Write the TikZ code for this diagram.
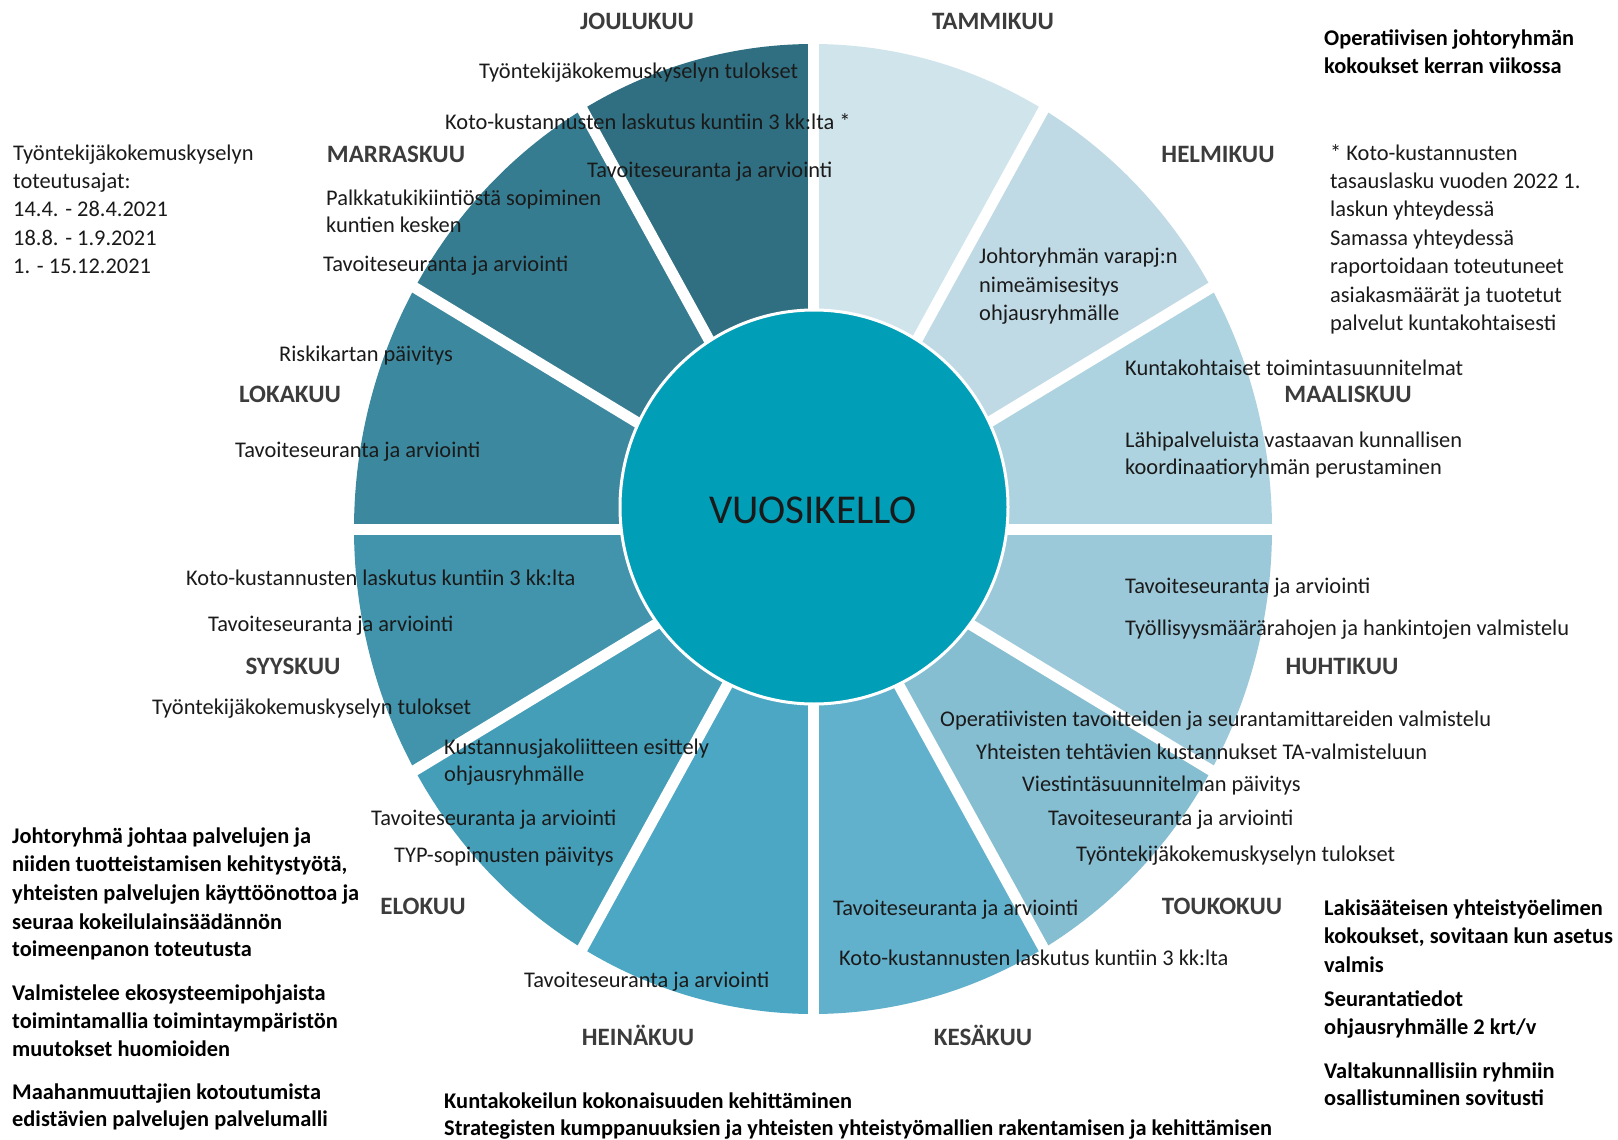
\documentclass[tikz,border=0pt]{standalone}
\usepackage{fontspec}
\setmainfont{Carlito}
\definecolor{cJan}{HTML}{D0E4EB}
\definecolor{cFeb}{HTML}{BFDAE5}
\definecolor{cMar}{HTML}{ADD3E0}
\definecolor{cApr}{HTML}{9CC9D9}
\definecolor{cMay}{HTML}{85BDD1}
\definecolor{cJun}{HTML}{62B1CC}
\definecolor{cJul}{HTML}{4BA7C3}
\definecolor{cAug}{HTML}{459EB8}
\definecolor{cSep}{HTML}{4194AC}
\definecolor{cOct}{HTML}{3C899F}
\definecolor{cNov}{HTML}{367C90}
\definecolor{cDec}{HTML}{2F6F81}
\definecolor{cCenter}{HTML}{009FB7}
\definecolor{txtc}{HTML}{1A1A1A}
\definecolor{monthc}{HTML}{3C3C3C}
\begin{document}
\begin{tikzpicture}[x=1pt,y=-1pt,
  txt/.style={anchor=base west, inner sep=0pt, text=txtc, font=\fontsize{22.4}{27}\selectfont},
  btxt/.style={anchor=base west, inner sep=0pt, text=black, font=\fontsize{22.4}{27}\selectfont\bfseries},
  month/.style={anchor=base, inner sep=0pt, text=monthc, font=\fontsize{25}{30}\selectfont\bfseries},
  gap/.style={white, line width=11pt},
]
\useasboundingbox (0,0) rectangle (1618,1140);
\fill[white] (0,0) rectangle (1618,1140);

% pie wedges
\begin{scope}[shift={(813,529)}]
\foreach \a/\c in {-90/cJan,-60/cFeb,-30/cMar,0/cApr,30/cMay,60/cJun,90/cJul,120/cAug,150/cSep,180/cOct,210/cNov,240/cDec}{
  \pgfmathsetmacro\b{\a+30}
  \fill[\c] (0,0) -- plot[domain=\a:\b, samples=31] ({459*cos(\x)},{485*sin(\x)}) -- cycle;
}
\foreach \a in {0,30,...,330}{
  \draw[gap] (0,0) -- ({500*cos(\a)},{525*sin(\a)});
}
\end{scope}

% centre
\draw[white, line width=3pt, fill=cCenter] (814,507) ellipse[x radius=194, y radius=197];
\node[anchor=base, inner sep=0pt, text=txtc, font=\fontsize{41}{48}\selectfont] (center) at (813,523) {VUOSIKELLO};

% month labels
\node[month] (mDec) at (637,30) {JOULUKUU};
\node[month] (mJan) at (993,30) {TAMMIKUU};
\node[month] (mFeb) at (1218,162) {HELMIKUU};
\node[month] (mMar) at (1348,402) {MAALISKUU};
\node[month] (mApr) at (1342,674) {HUHTIKUU};
\node[month] (mMay) at (1222,914) {TOUKOKUU};
\node[month] (mJun) at (983,1045) {KESÄKUU};
\node[month] (mJul) at (638,1045) {HEINÄKUU};
\node[month] (mAug) at (423,914) {ELOKUU};
\node[month] (mSep) at (293,674) {SYYSKUU};
\node[month] (mOct) at (290,402) {LOKAKUU};
\node[month] (mNov) at (396,162) {MARRASKUU};

% Joulukuu
\node[txt] (j1) at (479,79) {Työntekijäkokemuskyselyn tulokset};
\node[txt] (j2) at (445,129) {Koto-kustannusten laskutus kuntiin 3 kk:lta *};
\node[txt] (j3) at (587,177) {Tavoiteseuranta ja arviointi};
% Marraskuu
\node[txt] (n1) at (326,205) {Palkkatukikiintiöstä sopiminen};
\node[txt] (n2) at (326,232) {kuntien kesken};
\node[txt] (n3) at (323,271) {Tavoiteseuranta ja arviointi};
% left block
\node[txt] (L1) at (13,160) {Työntekijäkokemuskyselyn};
\node[txt] (L2) at (13,188) {toteutusajat:};
\node[txt] (L3) at (13,216) {14.4. - 28.4.2021};
\node[txt] (L4) at (13,245) {18.8. - 1.9.2021};
\node[txt] (L5) at (13,273) {1. - 15.12.2021};
% Lokakuu
\node[txt] (o1) at (279,361) {Riskikartan päivitys};
\node[txt] (o2) at (235,457) {Tavoiteseuranta ja arviointi};
% Syyskuu
\node[txt] (s1) at (186,585) {Koto-kustannusten laskutus kuntiin 3 kk:lta};
\node[txt] (s2) at (208,631) {Tavoiteseuranta ja arviointi};
\node[txt] (s3) at (152,714) {Työntekijäkokemuskyselyn tulokset};
% Elokuu
\node[txt] (e1) at (444,754) {Kustannusjakoliitteen esittely};
\node[txt] (e2) at (444,781) {ohjausryhmälle};
\node[txt] (e3) at (371,825) {Tavoiteseuranta ja arviointi};
\node[txt] (e4) at (394,862) {TYP-sopimusten päivitys};
% Heinakuu
\node[txt] (h1) at (524,987) {Tavoiteseuranta ja arviointi};
% Kesakuu
\node[txt] (k1) at (833,915) {Tavoiteseuranta ja arviointi};
\node[txt] (k2) at (839,965) {Koto-kustannusten laskutus kuntiin 3 kk:lta};
% Toukokuu
\node[txt] (u1) at (940,726) {Operatiivisten tavoitteiden ja seurantamittareiden valmistelu};
\node[txt] (u2) at (976,759) {Yhteisten tehtävien kustannukset TA-valmisteluun};
\node[txt] (u3) at (1022,791) {Viestintäsuunnitelman päivitys};
\node[txt] (u4) at (1048,825) {Tavoiteseuranta ja arviointi};
\node[txt] (u5) at (1076,861) {Työntekijäkokemuskyselyn tulokset};
% Huhtikuu
\node[txt] (a1) at (1125,593) {Tavoiteseuranta ja arviointi};
\node[txt] (a2) at (1125,635) {Työllisyysmäärärahojen ja hankintojen valmistelu};
% Maaliskuu
\node[txt] (m1) at (1125,375) {Kuntakohtaiset toimintasuunnitelmat};
\node[txt] (m2) at (1125,447) {Lähipalveluista vastaavan kunnallisen};
\node[txt] (m3) at (1125,474) {koordinaatioryhmän perustaminen};
% Helmikuu
\node[txt] (f1) at (979,263) {Johtoryhmän varapj:n};
\node[txt] (f2) at (979,292) {nimeämisesitys};
\node[txt] (f3) at (979,320) {ohjausryhmälle};

% right top bold
\node[btxt] (r1) at (1324,46) {Operatiivisen johtoryhmän};
\node[btxt] (r2) at (1324,74) {kokoukset kerran viikossa};
% right notes
\node[txt] (q1) at (1330,160) {* Koto-kustannusten};
\node[txt] (q2) at (1330,188) {tasauslasku vuoden 2022 1.};
\node[txt] (q3) at (1330,216) {laskun yhteydessä};
\node[txt] (q4) at (1330,245) {Samassa yhteydessä};
\node[txt] (q5) at (1330,273) {raportoidaan toteutuneet};
\node[txt] (q6) at (1330,302) {asiakasmäärät ja tuotetut};
\node[txt] (q7) at (1330,330) {palvelut kuntakohtaisesti};

% left bottom bold
\node[btxt] (b1) at (12,843) {Johtoryhmä johtaa palvelujen ja};
\node[btxt] (b2) at (12,871) {niiden tuotteistamisen kehitystyötä,};
\node[btxt] (b3) at (12,900) {yhteisten palvelujen käyttöönottoa ja};
\node[btxt] (b4) at (12,929) {seuraa kokeilulainsäädännön};
\node[btxt] (b5) at (12,956) {toimeenpanon toteutusta};
\node[btxt] (b6) at (12,1000) {Valmistelee ekosysteemipohjaista};
\node[btxt] (b7) at (12,1028) {toimintamallia toimintaympäristön};
\node[btxt] (b8) at (12,1056) {muutokset huomioiden};
\node[btxt] (b9) at (12,1099) {Maahanmuuttajien kotoutumista};
\node[btxt] (b10) at (12,1126) {edistävien palvelujen palvelumalli};

% right bottom bold
\node[btxt] (g1) at (1324,915) {Lakisääteisen yhteistyöelimen};
\node[btxt] (g2) at (1324,943) {kokoukset, sovitaan kun asetus};
\node[btxt] (g3) at (1324,972) {valmis};
\node[btxt] (g4) at (1324,1006) {Seurantatiedot};
\node[btxt] (g5) at (1324,1034) {ohjausryhmälle 2 krt/v};
\node[btxt] (g6) at (1324,1078) {Valtakunnallisiin ryhmiin};
\node[btxt] (g7) at (1324,1105) {osallistuminen sovitusti};

% bottom centre bold
\node[btxt] (c1) at (444,1108) {Kuntakokeilun kokonaisuuden kehittäminen};
\node[btxt] (c2) at (444,1135) {Strategisten kumppanuuksien ja yhteisten yhteistyömallien rakentamisen ja kehittämisen};
\end{tikzpicture}
\end{document}
